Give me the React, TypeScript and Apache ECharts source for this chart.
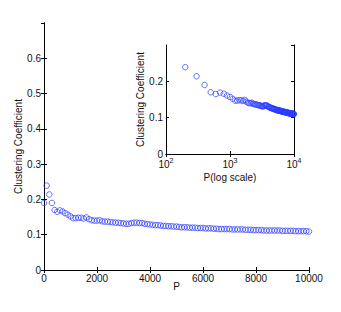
import React, { useEffect, useRef } from "react";
import * as echarts from "echarts";

const P: number[] = [
  0, 100, 200, 300, 400, 500, 600, 700, 800, 900,
  1000, 1100, 1200, 1300, 1400, 1500, 1600, 1700, 1800, 1900,
  2000, 2100, 2200, 2300, 2400, 2500, 2600, 2700, 2800, 2900,
  3000, 3100, 3200, 3300, 3400, 3500, 3600, 3700, 3800, 3900,
  4000, 4100, 4200, 4300, 4400, 4500, 4600, 4700, 4800, 4900,
  5000, 5100, 5200, 5300, 5400, 5500, 5600, 5700, 5800, 5900,
  6000, 6100, 6200, 6300, 6400, 6500, 6600, 6700, 6800, 6900,
  7000, 7100, 7200, 7300, 7400, 7500, 7600, 7700, 7800, 7900,
  8000, 8100, 8200, 8300, 8400, 8500, 8600, 8700, 8800, 8900,
  9000, 9100, 9200, 9300, 9400, 9500, 9600, 9700, 9800, 9900,
  10000,
];

const clustering: number[] = [
  0.190, 0.239, 0.214, 0.190, 0.170, 0.165, 0.169, 0.166, 0.161, 0.157,
  0.152, 0.147, 0.147, 0.148, 0.148, 0.146, 0.149, 0.144, 0.141, 0.140,
  0.140, 0.141, 0.138, 0.137, 0.137, 0.136, 0.135, 0.134, 0.134, 0.133,
  0.132, 0.131, 0.131, 0.133, 0.134, 0.134, 0.133, 0.133, 0.131, 0.130,
  0.129, 0.128, 0.127, 0.127, 0.126, 0.125, 0.125, 0.124, 0.124, 0.123,
  0.123, 0.122, 0.121, 0.121, 0.121, 0.120, 0.120, 0.120, 0.119, 0.119,
  0.119, 0.118, 0.118, 0.118, 0.117, 0.117, 0.116, 0.116, 0.116, 0.116,
  0.116, 0.115, 0.115, 0.115, 0.115, 0.115, 0.114, 0.114, 0.114, 0.113,
  0.113, 0.113, 0.113, 0.112, 0.112, 0.112, 0.112, 0.112, 0.112, 0.112,
  0.111, 0.111, 0.111, 0.111, 0.111, 0.110, 0.110, 0.110, 0.110, 0.110,
  0.109,
];

// inset plots the same values against P shifted by one step (as in the reference)
const insetShift = 100;

const FONT = "Liberation Sans, Arial, sans-serif";
const TXT = "#111";

export default function App() {
  const ref = useRef<HTMLDivElement>(null);
  useEffect(() => {
    if (!ref.current) return;
    const chart = echarts.init(ref.current, null, { renderer: "svg" });
    const mainData = P.map((p, i) => [p, clustering[i]]);
    const insetData = P.slice(1)
      .map((p, i) => [p + insetShift, clustering[i + 1]])
      .filter((d) => d[0] <= 10000);

    const axisLine = { show: true, lineStyle: { color: "#000", width: 1 } };
    const tickIn = { show: true, inside: true, length: 3, lineStyle: { color: "#000" } };
    const label = { color: TXT, fontSize: 10, fontFamily: FONT, margin: 3 };
    const mirror = { axisLabel: { show: false }, splitLine: { show: false }, axisLine, axisTick: tickIn };
    const nameStyle = { color: TXT, fontSize: 10, fontFamily: FONT };
    const fmtY = (v: number) => (v === 0 ? "0" : v.toFixed(1));

    chart.setOption({
      animation: false,
      backgroundColor: "#fff",
      textStyle: { fontFamily: FONT },
      grid: [
        { left: 44, top: 23, width: 265, height: 247, show: false },
        { left: 166, top: 45, width: 128, height: 109, show: true, backgroundColor: "#fff", borderWidth: 0 },
      ],
      xAxis: [
        {
          gridIndex: 0, type: "value", min: 0, max: 10000, interval: 2000,
          axisLine, axisTick: tickIn, splitLine: { show: false },
          axisLabel: { ...label, formatter: (v: number) => String(v) },
          name: "P", nameLocation: "middle", nameGap: 11, nameMoveOverlap: false,
          nameTextStyle: nameStyle,
        },
        { gridIndex: 0, type: "value", position: "top", min: 0, max: 10000, interval: 2000, ...mirror },
        {
          gridIndex: 1, type: "log", logBase: 10, min: 100, max: 10000,
          axisLine, axisTick: tickIn, splitLine: { show: false }, minorTick: { show: false },
          axisLabel: {
            ...label,
            formatter: (v: number) => `{b|10}{s|${Math.round(Math.log10(v))}}`,
            rich: {
              b: { fontSize: 10, fontFamily: FONT, color: TXT },
              s: { fontSize: 7, fontFamily: FONT, color: TXT, padding: [0, 0, 7, 0] },
            },
          },
          name: "P(log scale)", nameLocation: "middle", nameGap: 18, nameMoveOverlap: false,
          nameTextStyle: nameStyle,
        },
        { gridIndex: 1, type: "log", logBase: 10, min: 100, max: 10000, position: "top", ...mirror },
      ],
      yAxis: [
        {
          gridIndex: 0, type: "value", min: 0, max: 0.7, interval: 0.1,
          axisLine, axisTick: tickIn, splitLine: { show: false },
          axisLabel: { ...label, showMaxLabel: false, formatter: fmtY },
          name: "Clustering Coefficient", nameLocation: "middle", nameGap: 21, nameMoveOverlap: false,
          nameTextStyle: nameStyle,
        },
        { gridIndex: 0, type: "value", position: "right", min: 0, max: 0.7, interval: 0.1, ...mirror },
        {
          gridIndex: 1, type: "value", min: 0, max: 0.3, interval: 0.1,
          axisLine, axisTick: tickIn, splitLine: { show: false },
          axisLabel: { ...label, showMaxLabel: false, formatter: fmtY },
          name: "Clustering Coefficient", nameLocation: "middle", nameGap: 21, nameMoveOverlap: false,
          nameTextStyle: nameStyle,
        },
        { gridIndex: 1, type: "value", position: "right", min: 0, max: 0.3, interval: 0.1, ...mirror },
      ],
      series: [
        {
          type: "scatter", xAxisIndex: 0, yAxisIndex: 0, data: mainData,
          symbol: "circle", symbolSize: 5.5,
          itemStyle: { color: "transparent", borderColor: "#2a3bff", borderWidth: 0.9 },
        },
        {
          type: "scatter", xAxisIndex: 2, yAxisIndex: 2, data: insetData,
          symbol: "circle", symbolSize: 5.5,
          itemStyle: { color: "transparent", borderColor: "#2a3bff", borderWidth: 0.9 },
        },
      ],
    });
    return () => chart.dispose();
  }, []);
  return <div ref={ref} style={{ width: 341, height: 312, margin: -8 }} />;
}
